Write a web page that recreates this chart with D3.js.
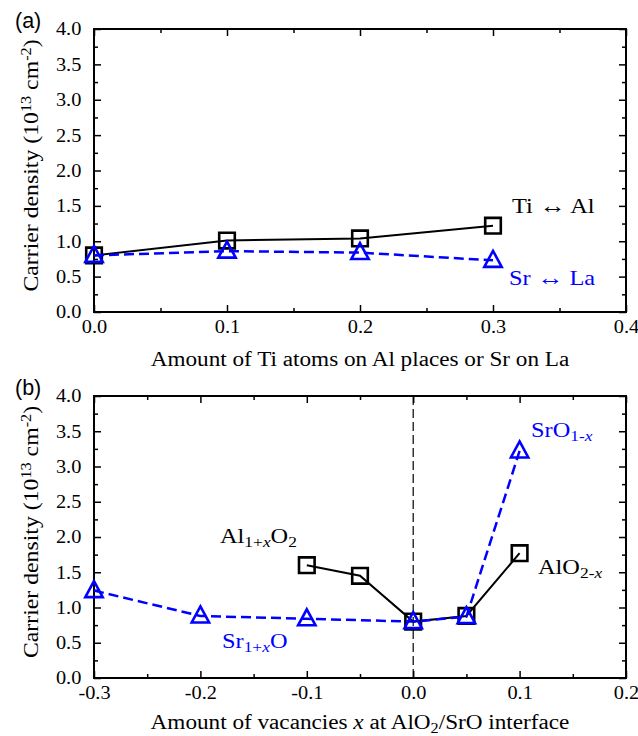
<!DOCTYPE html>
<html>
<head>
<meta charset="utf-8">
<script src="https://cdn.jsdelivr.net/npm/d3@7"></script>
<style>
  body { margin: 0; background: #fff; }
  svg text { font-family: "Liberation Serif", "Times New Roman", serif; }
</style>
</head>
<body>
<svg id="chart" width="638" height="736"></svg>
<script>
// panel (a) data
const subsX = [0.0, 0.1, 0.2, 0.3];
const tiAl = [0.80, 1.01, 1.04, 1.22];
const srLa = [0.80, 0.86, 0.84, 0.73];

// panel (b) data
const alX = [-0.1, -0.05, 0.0, 0.05, 0.1];
const alVals = [1.60, 1.45, 0.80, 0.88, 1.77];
const srX = [-0.3, -0.2, -0.1, 0.0, 0.05, 0.1];
const srVals = [1.24, 0.88, 0.84, 0.80, 0.87, 3.22];

const yMajor = [0, 0.5, 1, 1.5, 2, 2.5, 3, 3.5, 4];
const yMinor = [0.25, 0.75, 1.25, 1.75, 2.25, 2.75, 3.25, 3.75];
const xMajorA = [0, 0.1, 0.2, 0.3, 0.4];
const xMinorA = [0.05, 0.15, 0.25, 0.35];
const xMajorB = [-0.3, -0.2, -0.1, 0, 0.1, 0.2];
const xMinorB = [-0.25, -0.15, -0.05, 0.05, 0.15];

const svg = d3.select("#chart");
const blue = "#0000ff";
const fmt = d => d.toFixed(1);

// the original glyphs are a bit wider than Times, so stretch text horizontally
const stretchTick = 1.1;
const stretchText = 1.16;

function drawPanel(cfg) {
	const { top, bottom, xDomain, xMajor, xMinor, label, xTitle, titleY } = cfg;
	const left = 94, right = 626;
	const x = d3.scaleLinear().domain(xDomain).range([left, right]);
	const y = d3.scaleLinear().domain([0, 4]).range([bottom, top]);
	const g = svg.append("g");

	// axes with inward ticks
	const addAxis = (axis, tr, labels) => {
		const a = g.append("g").attr("transform", tr).call(axis);
		a.select(".domain").remove();
		a.selectAll(".tick line").attr("stroke", "#000").attr("stroke-width", 1.5);
		if (!labels) {
			a.selectAll("text").remove();
		} else {
			a.selectAll("text")
				.attr("fill", "#000")
				.attr("transform", `scale(${stretchTick},1)`)
				.style("font-size", "18.5px")
				.style("font-family", "'Liberation Serif', serif");
		}
		return a;
	};
	addAxis(d3.axisLeft(y).tickValues(yMajor).tickSize(-7).tickPadding(11.5).tickFormat(fmt), `translate(${left},0)`, true);
	addAxis(d3.axisLeft(y).tickValues(yMinor).tickSize(-4).tickFormat(""), `translate(${left},0)`, false);
	addAxis(d3.axisRight(y).tickValues(yMajor).tickSize(-7).tickFormat(""), `translate(${right},0)`, false);
	addAxis(d3.axisRight(y).tickValues(yMinor).tickSize(-4).tickFormat(""), `translate(${right},0)`, false);
	addAxis(d3.axisBottom(x).tickValues(xMajor).tickSize(-7).tickPadding(8).tickFormat(fmt), `translate(0,${bottom})`, true);
	addAxis(d3.axisBottom(x).tickValues(xMinor).tickSize(-4).tickFormat(""), `translate(0,${bottom})`, false);
	addAxis(d3.axisTop(x).tickValues(xMajor).tickSize(-7).tickFormat(""), `translate(0,${top})`, false);
	addAxis(d3.axisTop(x).tickValues(xMinor).tickSize(-4).tickFormat(""), `translate(0,${top})`, false);

	g.append("rect")
		.attr("x", left).attr("y", top)
		.attr("width", right - left).attr("height", bottom - top)
		.attr("fill", "none").attr("stroke", "#000").attr("stroke-width", 2);

	// y title
	const yt = g.append("text")
		.attr("transform", `translate(38,${(top + bottom) / 2 - 5}) rotate(-90) scale(${stretchText},1)`)
		.attr("text-anchor", "middle")
		.style("font-size", "20.5px")
		.attr("fill", "#000");
	yt.append("tspan").text("Carrier density (10");
	yt.append("tspan").attr("baseline-shift", "super").style("font-size", "14px").text("13");
	yt.append("tspan").text(" cm");
	yt.append("tspan").attr("baseline-shift", "super").style("font-size", "14px").text("-2");
	yt.append("tspan").text(")");

	// panel label
	g.append("text")
		.attr("x", 15).attr("y", top - 1)
		.style("font-family", "'Liberation Sans', Arial, sans-serif")
		.style("font-size", "21.5px")
		.text(label);

	// x title
	const xt = g.append("text")
		.attr("transform", `translate(${(left + right) / 2},${titleY}) scale(${stretchText},1)`)
		.attr("text-anchor", "middle")
		.style("font-size", "20px");
	xTitle(xt);

	return { g, x, y };
}

function series(p, xs, ys, color, dashed, marker) {
	const line = d3.line().x((d, i) => p.x(xs[i])).y(d => p.y(d));
	p.g.append("path")
		.datum(ys)
		.attr("d", line)
		.attr("fill", "none")
		.attr("stroke", color)
		.attr("stroke-width", dashed ? 2.5 : 2)
		.attr("stroke-dasharray", dashed ? "10,5" : null);
	const m = p.g.selectAll(null)
		.data(ys)
		.enter()
		.append("path")
		.attr("transform", (d, i) => `translate(${p.x(xs[i])},${p.y(d)})`)
		.attr("fill", "none")
		.attr("stroke", color)
		.attr("stroke-width", 2.6);
	if (marker === "square") m.attr("d", "M-7.8,-7.8H7.8V7.8H-7.8Z");
	else m.attr("d", "M0,-9.5L8.7,6.5L-8.7,6.5Z");
}

function label(p, xPos, yPos, color, parts) {
	const t = p.g.append("text")
		.attr("transform", `translate(${xPos},${yPos}) scale(${stretchText},1)`)
		.attr("fill", color)
		.style("font-size", "21px");
	parts.forEach(([s, kind]) => {
		const ts = t.append("tspan").text(s);
		if (kind === "sub" || kind === "subi") {
			ts.attr("baseline-shift", "-25%").style("font-size", "15px");
		}
		if (kind === "i" || kind === "subi") ts.style("font-style", "italic");
		if (kind === "arrow") ts.style("font-size", "23px");
	});
}

// panel (a)
const pa = drawPanel({
	top: 29, bottom: 312, titleY: 366,
	xDomain: [0, 0.4], xMajor: xMajorA, xMinor: xMinorA,
	label: "(a)",
	xTitle: t => t.text("Amount of Ti atoms on Al places or Sr on La")
});
series(pa, subsX, tiAl, "#000", false, "square");
series(pa, subsX, srLa, blue, true, "tri");
label(pa, 512, 213, "#000", [["Ti ", ""], ["\u2194", "arrow"], [" Al", ""]]);
label(pa, 509, 285, blue, [["Sr ", ""], ["\u2194", "arrow"], [" La", ""]]);

// panel (b)
const pb = drawPanel({
	top: 396, bottom: 678, titleY: 729,
	xDomain: [-0.3, 0.2], xMajor: xMajorB, xMinor: xMinorB,
	label: "(b)",
	xTitle: t => {
		t.append("tspan").text("Amount of vacancies ");
		t.append("tspan").style("font-style", "italic").text("x");
		t.append("tspan").text(" at AlO");
		t.append("tspan").attr("baseline-shift", "-25%").style("font-size", "14px").text("2");
		t.append("tspan").text("/SrO interface");
	}
});
pb.g.append("line")
	.attr("x1", pb.x(0)).attr("x2", pb.x(0))
	.attr("y1", pb.y(4)).attr("y2", pb.y(0))
	.attr("stroke", "#000").attr("stroke-width", 1.2)
	.attr("stroke-dasharray", "9,4");
series(pb, alX, alVals, "#000", false, "square");
series(pb, srX, srVals, blue, true, "tri");
label(pb, 220, 543, "#000", [["Al", ""], ["1+", "sub"], ["x", "subi"], ["O", ""], ["2", "sub"]]);
label(pb, 531, 437, blue, [["SrO", ""], ["1-", "sub"], ["x", "subi"]]);
label(pb, 538, 574, "#000", [["AlO", ""], ["2-", "sub"], ["x", "subi"]]);
label(pb, 222, 648, blue, [["Sr", ""], ["1+", "sub"], ["x", "subi"], ["O", ""]]);
</script>
</body>
</html>
